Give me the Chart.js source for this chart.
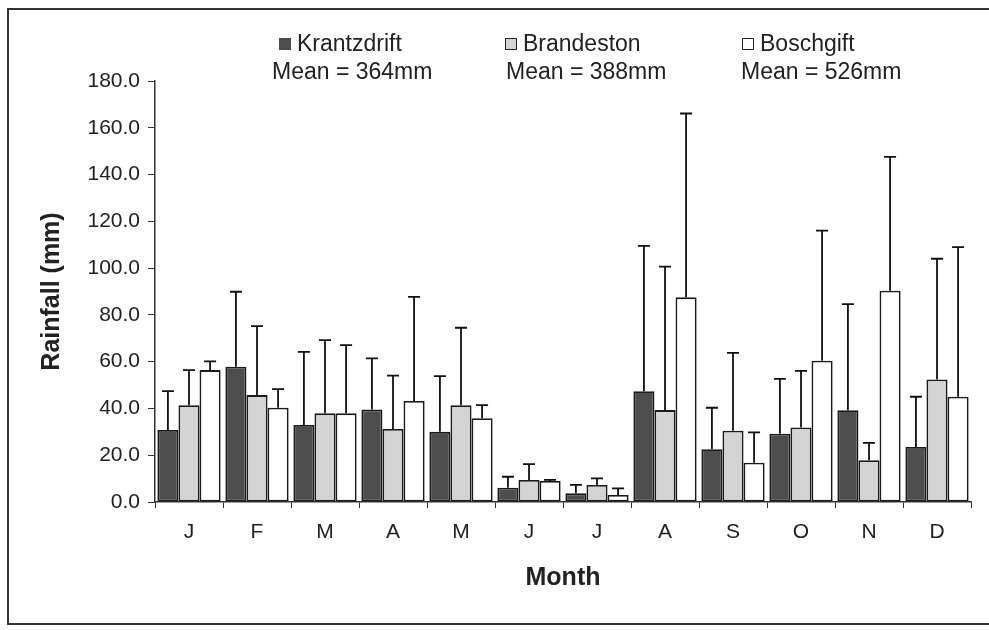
<!DOCTYPE html>
<html>
<head>
<meta charset="utf-8">
<script src="https://cdn.jsdelivr.net/npm/chart.js@4.4.0/dist/chart.umd.min.js"></script>
<style>
  body { margin: 0; background: #fff; }
  #wrap { position: relative; width: 989px; height: 630px; overflow: hidden;
          font-family: "Liberation Sans", Arial, sans-serif; color: #222; }
  #frame { position: absolute; left: 7px; top: 8px; width: 1000px; height: 617px;
           border: 2px solid #333; box-sizing: border-box; }
  .leg { position: absolute; font-size: 23px; line-height: 26px; white-space: nowrap; }
  .sw { display: inline-block; width: 10px; height: 10px; border: 1.5px solid #222;
        margin-right: 6px; vertical-align: 1px; }
  canvas { position: absolute; left: 0; top: 0; }
</style>
</head>
<body>
<div id="wrap">
  <div id="frame"></div>
  <canvas id="chart" width="989" height="630"></canvas>
  <div class="leg" style="left:279px;top:30px"><span class="sw" style="background:#4d4d4d;border-color:#4d4d4d"></span>Krantzdrift</div>
  <div class="leg" style="left:272px;top:58px">Mean = 364mm</div>
  <div class="leg" style="left:505px;top:30px"><span class="sw" style="background:#d4d4d4"></span>Brandeston</div>
  <div class="leg" style="left:506px;top:58px">Mean = 388mm</div>
  <div class="leg" style="left:742px;top:30px"><span class="sw" style="background:#fff"></span>Boschgift</div>
  <div class="leg" style="left:741px;top:58px">Mean = 526mm</div>
</div>
<script>
const months = ["J", "F", "M", "A", "M", "J", "J", "A", "S", "O", "N", "D"];

// monthly mean rainfall (mm) and standard deviation
const krantzdrift = [30.8, 57.8, 32.9, 39.6, 30.0, 6.1, 3.7, 47.4, 22.6, 29.2, 39.2, 23.5];
const krantzdriftSd = [16.6, 32.1, 31.3, 21.8, 23.8, 4.7, 3.6, 62.1, 17.7, 23.4, 45.4, 21.5];
const brandeston = [41.4, 45.7, 37.9, 31.2, 41.4, 9.4, 7.3, 39.3, 30.5, 31.9, 17.9, 52.4];
const brandestonSd = [15.0, 29.5, 31.3, 22.8, 33.1, 6.8, 2.8, 61.3, 33.3, 24.2, 7.4, 51.6];
const boschgift = [56.4, 40.3, 37.9, 43.2, 35.8, 9.0, 3.0, 87.5, 16.8, 60.4, 90.3, 45.0];
const boschgiftSd = [3.7, 8.0, 29.2, 44.5, 5.6, 0.5, 2.8, 78.6, 13.0, 55.6, 57.3, 64.0];

const errorBars = {
  id: "errorBars",
  afterDatasetsDraw(chart) {
    const ctx = chart.ctx;
    const y = chart.scales.y;
    ctx.save();
    ctx.strokeStyle = "#111";
    ctx.lineWidth = 1.8;
    chart.data.datasets.forEach((ds, i) => {
      chart.getDatasetMeta(i).data.forEach((bar, j) => {
        const top = y.getPixelForValue(ds.data[j] + ds.sd[j]);
        ctx.beginPath();
        ctx.moveTo(bar.x, bar.y);
        ctx.lineTo(bar.x, top);
        ctx.moveTo(bar.x - 6, top);
        ctx.lineTo(bar.x + 6, top);
        ctx.stroke();
      });
    });
    ctx.restore();
  }
};

const barStyle = {
  borderColor: "#1a1a1a",
  borderWidth: 1.8,
  borderSkipped: false,
  categoryPercentage: 0.93,
  barPercentage: 1.0,
};

new Chart(document.getElementById("chart"), {
  type: "bar",
  data: {
    labels: months,
    datasets: [
      { label: "Krantzdrift", data: krantzdrift, sd: krantzdriftSd, backgroundColor: "#4d4d4d", ...barStyle },
      { label: "Brandeston", data: brandeston, sd: brandestonSd, backgroundColor: "#d4d4d4", ...barStyle },
      { label: "Boschgift", data: boschgift, sd: boschgiftSd, backgroundColor: "#ffffff", ...barStyle },
    ],
  },
  plugins: [errorBars],
  options: {
    responsive: false,
    animation: false,
    layout: { padding: { top: 81, right: 18, left: 0, bottom: 0 } },
    plugins: {
      legend: { display: false },
      tooltip: { enabled: false },
    },
    scales: {
      x: {
        grid: { drawOnChartArea: false, tickLength: 6, color: "#333", offset: true },
        border: { color: "#333", width: 1.5 },
        ticks: { color: "#222", font: { family: "Liberation Sans", size: 21 }, padding: 12 },
        title: {
          display: true,
          text: "Month",
          color: "#222",
          font: { family: "Liberation Sans", size: 25, weight: "bold" },
          padding: { top: 0, bottom: 37 },
        },
        afterFit(scale) { scale.height = 128; },
      },
      y: {
        min: 0,
        max: 180,
        grid: { drawOnChartArea: false, tickLength: 7, color: "#333" },
        border: { color: "#333", width: 1.5 },
        ticks: {
          stepSize: 20,
          color: "#222",
          font: { family: "Liberation Sans", size: 21 },
          padding: 8,
          callback: (v) => v.toFixed(1),
        },
        title: {
          display: true,
          text: "Rainfall (mm)",
          color: "#222",
          font: { family: "Liberation Sans", size: 25, weight: "bold" },
          padding: { top: 37, bottom: 0 },
        },
        afterFit(scale) { scale.width = 155; },
      },
    },
  },
});
</script>
</body>
</html>
